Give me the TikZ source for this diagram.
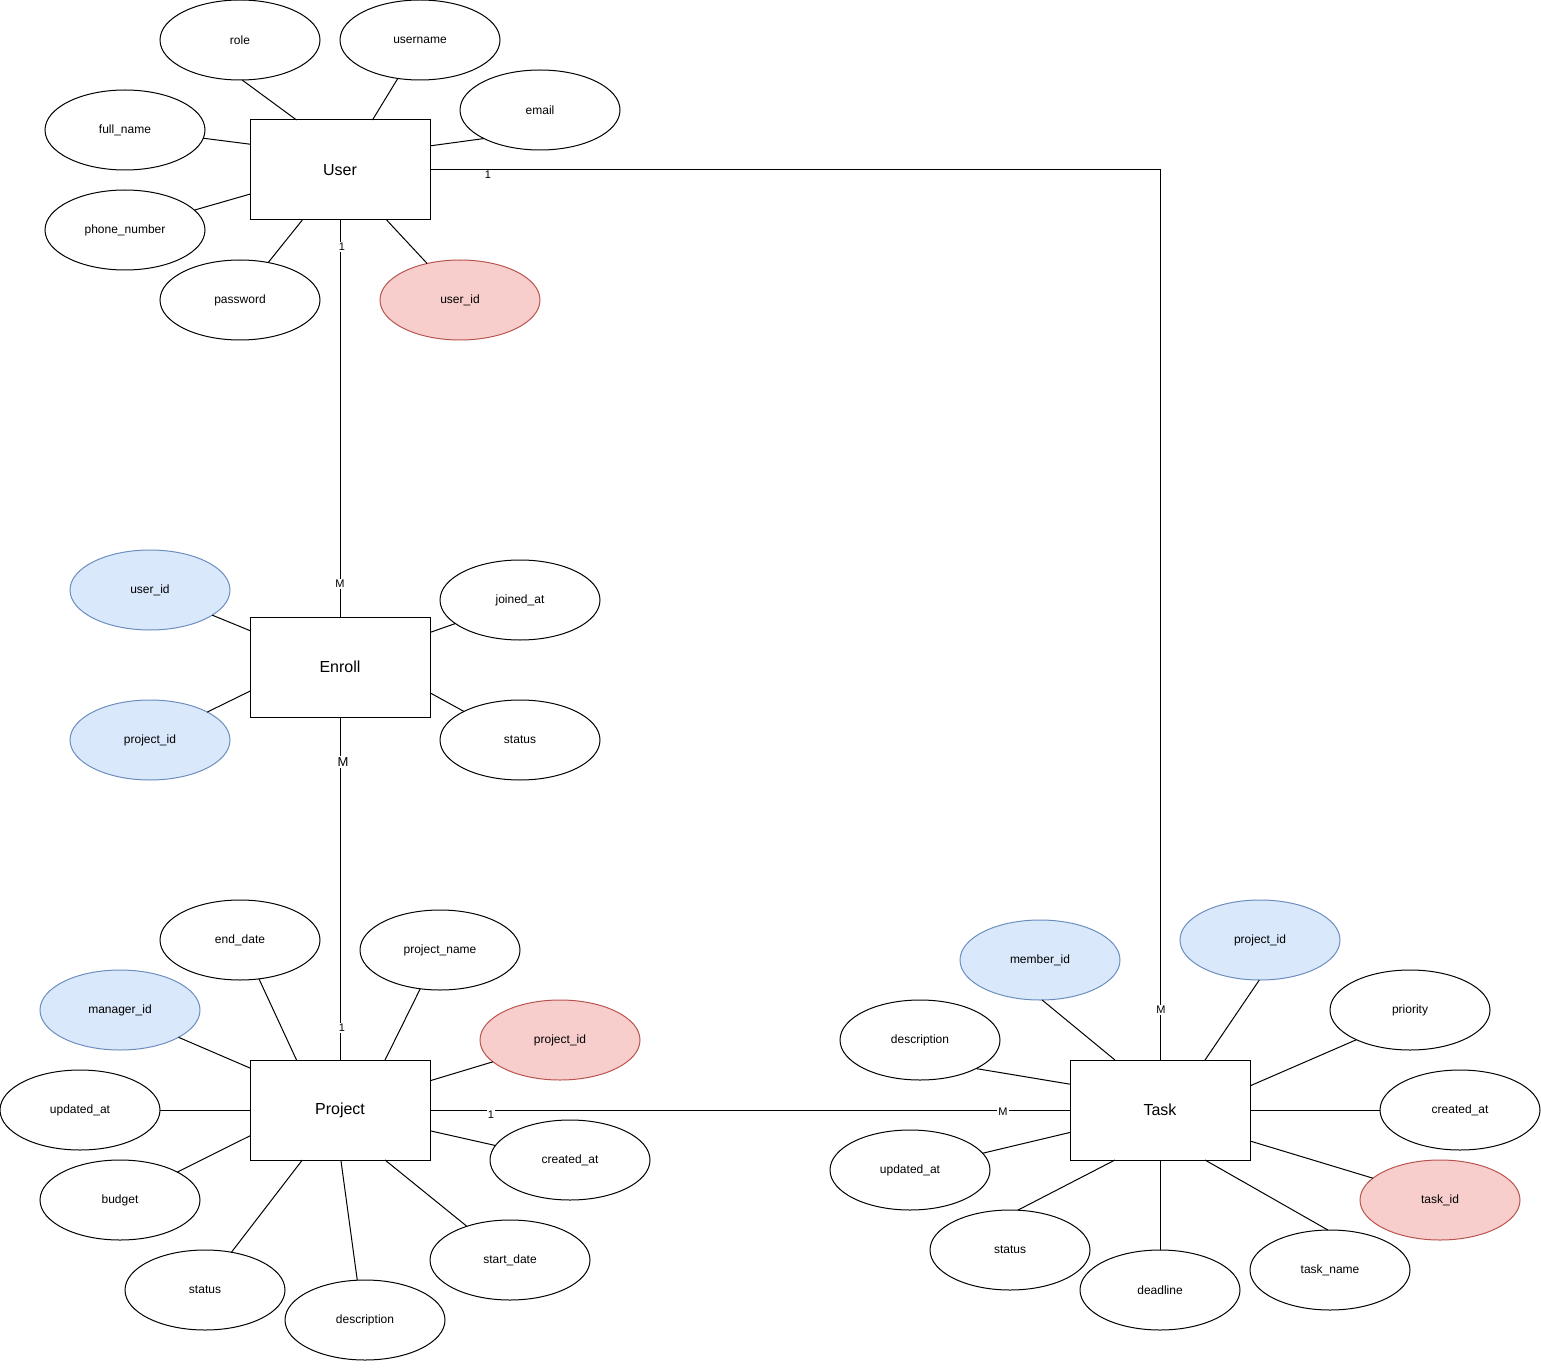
\documentclass[tikz,border=0pt]{standalone}
\usepackage{fontspec}
\setmainfont{Liberation Sans}
\usetikzlibrary{shapes.geometric}
\definecolor{pkfill}{HTML}{F8CECC}
\definecolor{pkline}{HTML}{B85450}
\definecolor{fkfill}{HTML}{DAE8FC}
\definecolor{fkline}{HTML}{6C8EBF}
\tikzset{
  entity/.style={draw=black, line width=0.75pt, fill=white, rectangle,
    minimum width=135pt, minimum height=75pt, inner sep=0pt, outer sep=0pt,
    font=\fontsize{12}{14}\selectfont},
  attr/.style={draw=black, line width=0.75pt, fill=white, ellipse,
    minimum width=120pt, minimum height=60pt, inner sep=0pt, outer sep=0pt,
    font=\fontsize{9}{11}\selectfont},
  pk/.style={attr, draw=pkline, fill=pkfill},
  fk/.style={attr, draw=fkline, fill=fkfill},
  link/.style={draw=black, line width=0.75pt},
  card/.style={fill=white, inner sep=0.8pt, font=\fontsize{8.25}{10}\selectfont},
  cardbig/.style={card, font=\fontsize{9.75}{11}\selectfont}
}
\begin{document}
\begin{tikzpicture}[x=0.75pt, y=-0.75pt]
\useasboundingbox (0,0) rectangle (1541,1369);

% ---------- relationships ----------
\node[entity] (user)    at (340,170)  {User};
\node[entity] (enroll)  at (340,667)  {Enroll};
\node[entity] (project) at (340,1110) {Project};
\node[entity] (task)    at (1160,1110) {Task};

\draw[link] (user.south) -- (enroll.north);
\draw[link] (enroll.south) -- (project.north);
\draw[link] (user.east) -| (task.north);
\draw[link] (project.east) -- (task.west);

\node[card] (c1) at (342,247) {1};
\node[card] (c2) at (340,584) {M};
\node[cardbig] (c3) at (343,762) {M};
\node[card] (c4) at (342,1028) {1};
\node[card] (c5) at (488,175) {1};
\node[card] (c6) at (1161,1010) {M};
\node[card] (c7) at (491,1115) {1};
\node[card] (c8) at (1003,1112) {M};

% ---------- User attributes ----------
\node[attr] (uRole)  at (240,40)  {role};
\node[attr] (uName)  at (420,40)  {username};
\node[attr] (uMail)  at (540,110) {email};
\node[attr] (uFull)  at (125,130) {full\_name};
\node[attr] (uPhone) at (125,230) {phone\_number};
\node[attr] (uPass)  at (240,300) {password};
\node[pk]   (uId)    at (460,300) {user\_id};

\draw[link] (uRole.273)  -- (user.131);
\draw[link] (uName.240)  -- (user.57);
\draw[link] (uMail.207)  -- (user.15);
\draw[link] (uFull.-6)   -- (user.164);
\draw[link] (uPhone.16)  -- (user.195);
\draw[link] (uPass.53)   -- (user.233);
\draw[link] (uId.132)    -- (user.313);

% ---------- Enroll attributes ----------
\node[fk]   (eUser) at (150,590) {user\_id};
\node[fk]   (eProj) at (150,740) {project\_id};
\node[attr] (eJoin) at (520,600) {joined\_at};
\node[attr] (eStat) at (520,740) {status};

\draw[link] (eUser.338) -- (enroll.158);
\draw[link] (eProj.26)  -- (enroll.195.5);
\draw[link] (eJoin.200) -- (enroll.21);
\draw[link] (eStat.153) -- (enroll.344.5);

% ---------- Project attributes ----------
\node[attr] (pEnd)    at (240,940)  {end\_date};
\node[attr] (pName)   at (440,950)  {project\_name};
\node[fk]   (pMgr)    at (120,1010) {manager\_id};
\node[pk]   (pId)     at (560,1040) {project\_id};
\node[attr] (pUpd)    at (80,1110)  {updated\_at};
\node[attr] (pCre)    at (570,1160) {created\_at};
\node[attr] (pBud)    at (120,1200) {budget};
\node[attr] (pStart)  at (510,1260) {start\_date};
\node[attr] (pStat)   at (205,1290) {status};
\node[attr] (pDesc)   at (365,1320) {description};

\draw[link] (pEnd.296)    -- (project.131);
\draw[link] (pName.243)   -- (project.48);
\draw[link] (pMgr.335)    -- (project.155.5);
\draw[link] (pId.198)     -- (project.18);
\draw[link] (pUpd.east)   -- (project.west);
\draw[link] (pCre.169)    -- (project.347.5);
\draw[link] (pBud.26)     -- (project.196);
\draw[link] (pStart.142)  -- (project.312);
\draw[link] (pStat.55)    -- (project.233.5);
\draw[link] (pDesc.101)   -- (project.271);

% ---------- Task attributes ----------
\node[fk]   (tMem)   at (1040,960)  {member\_id};
\node[fk]   (tProj)  at (1260,940)  {project\_id};
\node[attr] (tPrio)  at (1410,1010) {priority};
\node[attr] (tDesc)  at (920,1040)  {description};
\node[attr] (tCre)   at (1460,1110) {created\_at};
\node[attr] (tUpd)   at (910,1170)  {updated\_at};
\node[pk]   (tId)    at (1440,1200) {task\_id};
\node[attr] (tStat)  at (1010,1250) {status};
\node[attr] (tName)  at (1330,1270) {task\_name};
\node[attr] (tDead)  at (1160,1290) {deadline};

\draw[link] (tMem.273)    -- (task.132);
\draw[link] (tProj.269)   -- (task.48);
\draw[link] (tPrio.209)   -- (task.15.5);
\draw[link] (tDesc.333)   -- (task.164.5);
\draw[link] (tCre.west)   -- (task.east);
\draw[link] (tUpd.13)     -- (task.194);
\draw[link] (tId.162)     -- (task.341.5);
\draw[link] (tStat.79)    -- (task.228);
\draw[link] (tName.93)    -- (task.312);
\draw[link] (tDead.north) -- (task.south);
\end{tikzpicture}
\end{document}
